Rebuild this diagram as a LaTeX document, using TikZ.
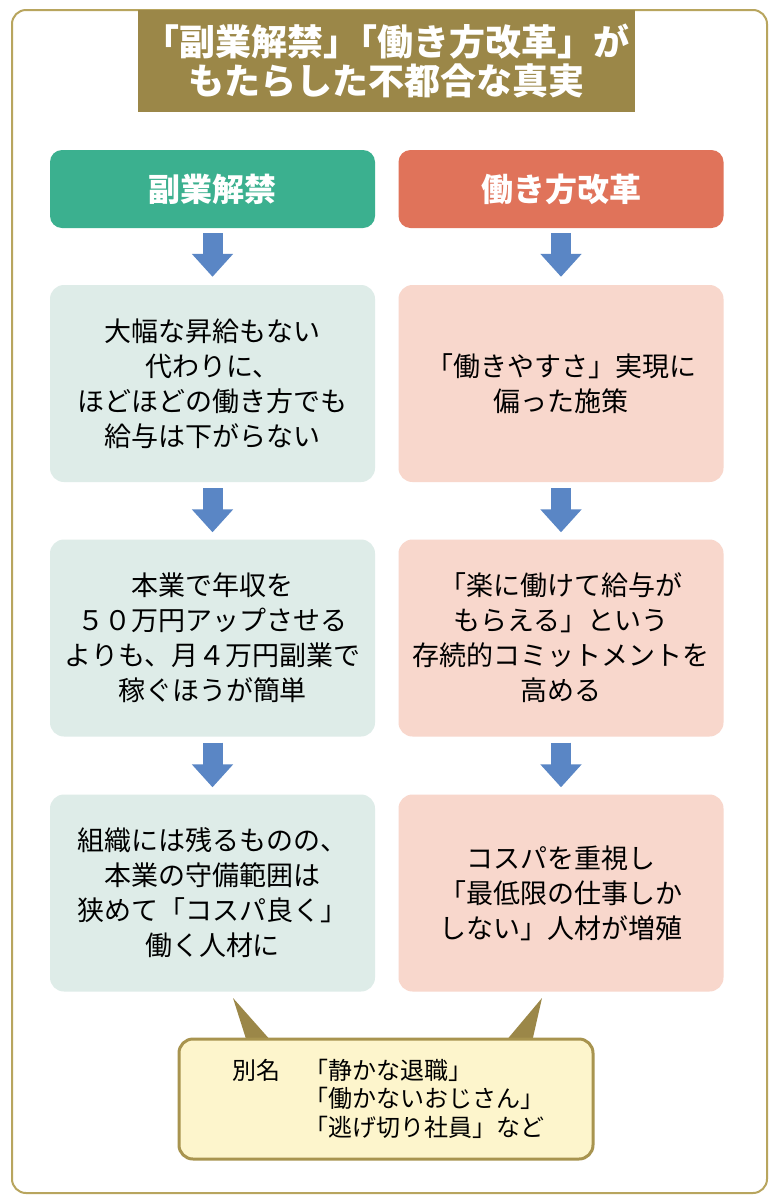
\documentclass[tikz,border=0pt]{standalone}
\usepackage{fontspec}
\setmainfont{Noto Sans CJK JP}
\usetikzlibrary{arrows.meta}
\definecolor{framegold}{HTML}{B8A55E}
\definecolor{titleolive}{HTML}{9B8748}
\definecolor{headteal}{HTML}{3BB08F}
\definecolor{headred}{HTML}{E0735A}
\definecolor{boxteal}{HTML}{DEECE8}
\definecolor{boxpink}{HTML}{F8D7CC}
\definecolor{arrowblue}{HTML}{5A86C5}
\definecolor{notefill}{HTML}{FDF5CC}
\definecolor{noteline}{HTML}{A8944F}
\tikzset{
  headbox/.style={rounded corners=12pt, minimum width=325pt, minimum height=78pt,
    inner sep=0pt, text=white, font=\fontsize{32}{36}\selectfont\bfseries},
  textbox/.style={rounded corners=14pt, minimum width=325pt, minimum height=197pt,
    inner sep=0pt, align=center, font=\fontsize{27}{35}\selectfont},
  downarrow/.style={draw=arrowblue, line width=20pt, shorten <=6pt, shorten >=7pt,
    -{Triangle[width=40pt,length=23pt]}},
  pointer/.style={fill=titleolive}
}
\begin{document}
\begin{tikzpicture}[x=1pt,y=-1pt]
\useasboundingbox (0,0) rectangle (777,1200);
\fill[white] (0,0) rectangle (777,1200);
\draw[framegold, line width=2pt, rounded corners=14pt] (12,10) rectangle (767,1193);
% title
\node[fill=titleolive, minimum width=497pt, minimum height=102pt, inner sep=0pt,
  text=white, align=center, font=\fontsize{36}{39}\selectfont\bfseries]
  (title) at (386.5,61) {「副業解禁」\kern-0.5em「働き方改革」が\\もたらした不都合な真実};
% left column
\node[headbox, fill=headteal] (lh) at (212.5,189) {副業解禁};
\node[textbox, fill=boxteal] (l1) at (212.5,383.5)
  {大幅な昇給もない\\代わりに、\\ほどほどの働き方でも\\給与は下がらない};
\node[textbox, fill=boxteal] (l2) at (212.5,638)
  {本業で年収を\\５０万円アップさせる\\よりも、月４万円副業で\\稼ぐほうが簡単};
\node[textbox, fill=boxteal] (l3) at (212.5,893)
  {組織には残るものの、\\本業の守備範囲は\\狭めて「コスパ良く」\\働く人材に};
% right column
\node[headbox, fill=headred] (rh) at (561,189) {働き方改革};
\node[textbox, fill=boxpink] (r1) at (561,383.5)
  {「働きやすさ」実現に\\偏った施策};
\node[textbox, fill=boxpink] (r2) at (561,638)
  {「楽に働けて給与が\\もらえる」という\\存続的コミットメントを\\高める};
\node[textbox, fill=boxpink] (r3) at (561,893)
  {コスパを重視し\\「最低限の仕事しか\\しない」人材が増殖};
% arrows
\draw[downarrow, shorten <=5pt, shorten >=8pt] (lh) -- (l1);
\draw[downarrow] (l1) -- (l2);
\draw[downarrow] (l2) -- (l3);
\draw[downarrow, shorten <=5pt, shorten >=8pt] (rh) -- (r1);
\draw[downarrow] (r1) -- (r2);
\draw[downarrow] (r2) -- (r3);
% callout
\coordinate (ltip) at (233,998);
\coordinate (rtip) at (542,998);
\fill[pointer] (ltip) -- (247,1042) -- (272,1042) -- cycle;
\fill[pointer] (rtip) -- (505,1042) -- (532,1042) -- cycle;
\node[fill=notefill, draw=noteline, line width=3pt, rounded corners=14pt,
  minimum width=414pt, minimum height=120pt, inner sep=0pt] (note) at (386,1099) {};
\node[anchor=west, inner sep=0pt, font=\fontsize{24}{28}\selectfont] (aliases) at (232,1102)
  {\begin{tabular}{@{}l@{\hspace{24pt}}l@{}}
   別名 & 「静かな退職」\\
        & 「働かないおじさん」\\
        & 「逃げ切り社員」など
   \end{tabular}};
\end{tikzpicture}
\end{document}
